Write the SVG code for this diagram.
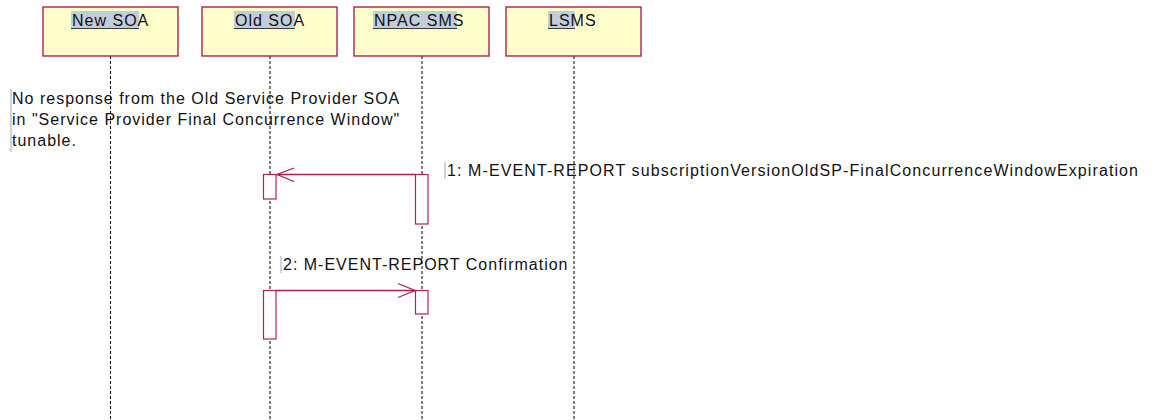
<svg xmlns="http://www.w3.org/2000/svg" width="1152" height="420" viewBox="0 0 1152 420">
<defs>
<style>
.box{fill:#ffffcc;stroke:#b4204c;stroke-width:1.4}
.t{font-family:"Liberation Sans",Arial,sans-serif;font-size:16px;fill:#111;letter-spacing:1px}
.hl{fill:#c2cddb}
.ul{stroke:#3a3a3a;stroke-width:1}
.life{stroke:#000;stroke-width:1;stroke-dasharray:3,2;fill:none}
.act{fill:#fff;stroke:#b4204c;stroke-width:1.2}
.msg{stroke:#b01e4a;stroke-width:1.3;fill:none}
.caret{stroke:#b8c4d4;stroke-width:1.5}
</style>
</defs>
<rect width="1152" height="420" fill="#fff"/>
<g id="note">
<line class="caret" x1="11" y1="89" x2="11" y2="152"/>
<text class="t" x="12" y="104">No response from the Old Service Provider SOA</text>
<text class="t" x="12" y="125">in "Service Provider Final Concurrence Window"</text>
<text class="t" x="12" y="146">tunable.</text>
</g>
<g id="lifelines">
<line class="life" x1="110.5" y1="56" x2="110.5" y2="420"/>
<line class="life" x1="270" y1="56" x2="270" y2="420"/>
<line class="life" x1="422" y1="56" x2="422" y2="420"/>
<line class="life" x1="574" y1="56" x2="574" y2="420"/>
</g>
<g id="node-newsoa">
<rect class="box" x="43" y="7" width="135" height="49"/>
<rect class="hl" x="71" y="11" width="68" height="18"/>
<line class="ul" x1="71" y1="28.5" x2="139" y2="28.5"/>
<text class="t" x="72" y="26">New SOA</text>
</g>
<g id="node-oldsoa">
<rect class="box" x="202" y="7" width="135" height="49"/>
<rect class="hl" x="234" y="11" width="61" height="18"/>
<line class="ul" x1="234" y1="28.5" x2="295" y2="28.5"/>
<text class="t" x="235" y="26">Old SOA</text>
</g>
<g id="node-npac">
<rect class="box" x="354" y="7" width="135" height="49"/>
<rect class="hl" x="373" y="11" width="84" height="18"/>
<line class="ul" x1="373" y1="28.5" x2="457" y2="28.5"/>
<text class="t" x="374" y="26">NPAC SMS</text>
</g>
<g id="node-lsms">
<rect class="box" x="506" y="7" width="135" height="49"/>
<rect class="hl" x="548" y="11" width="27" height="18"/>
<line class="ul" x1="548" y1="28.5" x2="575" y2="28.5"/>
<text class="t" x="549" y="26">LSMS</text>
</g>
<g id="activations">
<rect class="act" x="263.5" y="174.5" width="12.5" height="24.5"/>
<rect class="act" x="415.5" y="174.5" width="12.5" height="49.5"/>
<rect class="act" x="263.5" y="290.5" width="12.5" height="48.5"/>
<rect class="act" x="415.5" y="290.5" width="12.5" height="23.5"/>
</g>
<g id="connectors">
<line class="msg" x1="415.5" y1="174.5" x2="277" y2="174.5"/>
<polyline class="msg" points="294,168 277,174.5 294,181.5"/>
<line class="msg" x1="276" y1="290.5" x2="415" y2="290.5"/>
<polyline class="msg" points="398,283.5 415,290.5 398,297.5"/>
</g>
<g id="labels">
<line class="caret" x1="445" y1="162" x2="445" y2="179"/>
<text class="t" x="447" y="175.5" textLength="692">1: M-EVENT-REPORT subscriptionVersionOldSP-FinalConcurrenceWindowExpiration</text>
<line class="caret" x1="281" y1="256" x2="281" y2="273"/>
<text class="t" x="283" y="270">2: M-EVENT-REPORT Confirmation</text>
</g>
</svg>
